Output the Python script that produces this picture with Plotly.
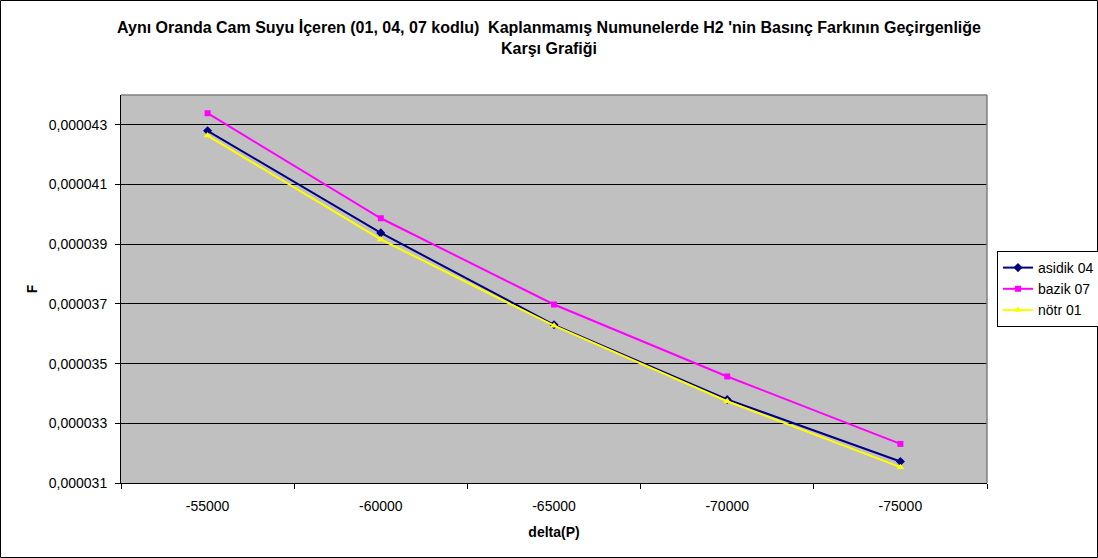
import plotly.graph_objects as go

# Pressure difference categories (x axis)
delta_p = [-55000, -60000, -65000, -70000, -75000]

# Permeability F for each sample series
asidik_04 = [0.00004280, 0.00003938, 0.00003630, 0.00003380, 0.00003172]
bazik_07 = [0.00004339, 0.00003987, 0.00003698, 0.00003457, 0.00003231]
notr_01 = [0.00004264, 0.00003916, 0.00003627, 0.00003374, 0.00003153]

# Y axis ticks
y_ticks = [0.000031, 0.000033, 0.000035, 0.000037, 0.000039, 0.000041, 0.000043]
y_tick_text = ["0,000031", "0,000033", "0,000035", "0,000037", "0,000039", "0,000041", "0,000043"]

W, H = 1098, 558
ML, MR, MT, MB = 121, 111, 95, 75
PW, PH = W - ML - MR, H - MT - MB

FONT = "Liberation Sans, Arial, sans-serif"
cats = [str(v) for v in delta_p]


def px_x(p):
    return (p - ML) / PW


def px_y(p):
    return (H - MB - p) / PH


fig = go.Figure()
fig.add_trace(go.Scatter(
    x=cats, y=asidik_04, name="asidik 04", mode="lines+markers",
    line=dict(color="#000080", width=2),
    marker=dict(symbol="diamond", size=7, color="#000080"),
))
fig.add_trace(go.Scatter(
    x=cats, y=bazik_07, name="bazik 07", mode="lines+markers",
    line=dict(color="#FF00FF", width=2),
    marker=dict(symbol="square", size=6, color="#FF00FF"),
))
fig.add_trace(go.Scatter(
    x=cats, y=notr_01, name="nötr 01", mode="lines+markers",
    line=dict(color="#FFFF00", width=2),
    marker=dict(symbol="triangle-up", size=7, color="#FFFF00"),
))

shapes = [
    # plot area border (top and right)
    dict(type="line", xref="paper", yref="paper", x0=0, x1=1, y0=1, y1=1,
         line=dict(color="#808080", width=1.5)),
    dict(type="line", xref="paper", yref="paper", x0=1, x1=1, y0=0, y1=1,
         line=dict(color="#808080", width=1.5)),
    # chart area border
    dict(type="rect", xref="paper", yref="paper",
         x0=px_x(0.5), x1=px_x(W - 0.5), y0=px_y(H - 0.5), y1=px_y(0.5),
         line=dict(color="black", width=1)),
]

fig.update_layout(
    width=W, height=H,
    margin=dict(l=ML, r=MR, t=MT, b=MB, autoexpand=False),
    paper_bgcolor="white",
    plot_bgcolor="#C0C0C0",
    font=dict(family=FONT, size=14, color="black"),
    title=dict(
        text="<b>Aynı Oranda Cam Suyu İçeren (01, 04, 07 kodlu)  Kaplanmamış Numunelerde H2 'nin Basınç Farkının Geçirgenliğe<br>Karşı Grafiği</b>",
        x=0.5, xref="container", xanchor="center",
        y=1 - 33 / H, yref="container", yanchor="middle",
        font=dict(family=FONT, size=16, color="black"),
    ),
    xaxis=dict(
        type="category", range=[-0.5, 4.5],
        tickson="boundaries", ticks="outside", ticklen=5, tickcolor="black",
        ticklabelstandoff=10,
        showgrid=False, showline=True, linecolor="black", linewidth=1,
        zeroline=False,
        title=dict(text="<b>delta(P)</b>", standoff=14, font=dict(size=14)),
    ),
    yaxis=dict(
        range=[0.000031, 0.000044],
        tickvals=y_ticks, ticktext=y_tick_text,
        ticks="outside", ticklen=5, tickcolor="black",
        ticklabelstandoff=5,
        showgrid=True, gridcolor="black", gridwidth=1,
        showline=True, linecolor="black", linewidth=1,
        zeroline=False,
        title=dict(text="<b>F</b>", standoff=7, font=dict(size=14)),
    ),
    legend=dict(
        xref="container", yref="container",
        x=997 / W, y=1 - 251 / H, xanchor="left", yanchor="top",
        bordercolor="black", borderwidth=1, bgcolor="white",
        font=dict(family=FONT, size=14),
        tracegroupgap=0,
    ),
    shapes=shapes,
    showlegend=True,
)

fig.write_html("out.html")
